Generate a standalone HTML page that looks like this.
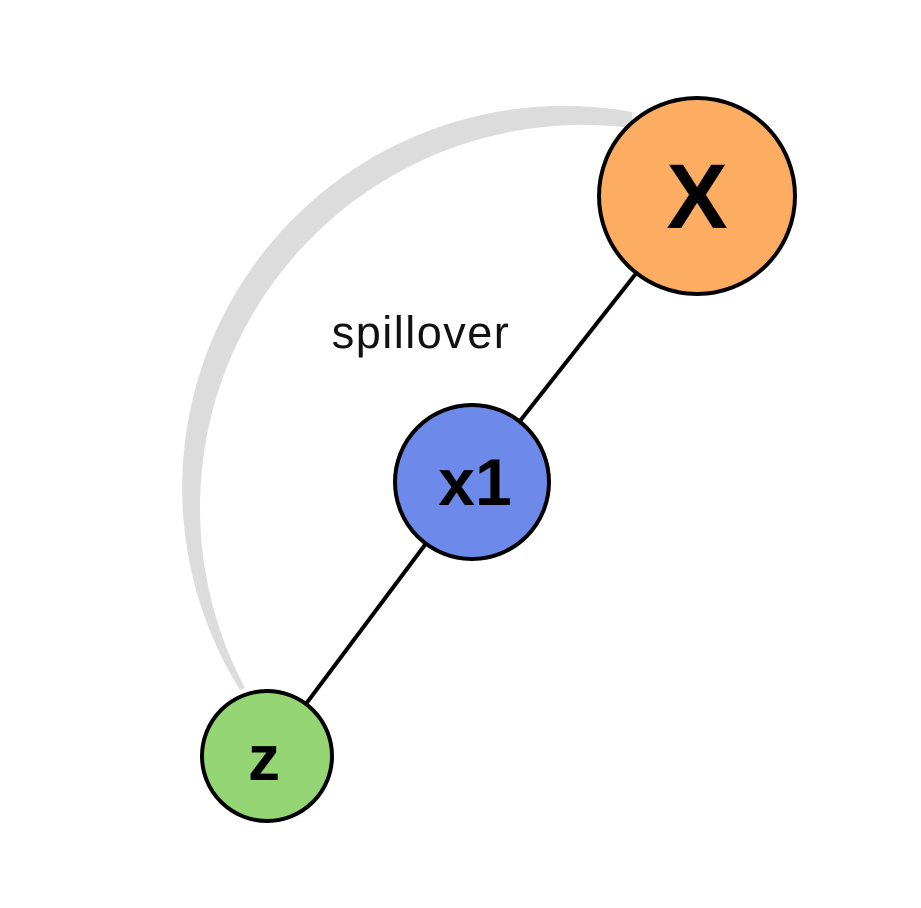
<!DOCTYPE html>
<html><head><style>html,body{margin:0;padding:0;background:#fff;}svg{display:block}</style></head>
<body>
<svg width="921" height="908" viewBox="0 0 921 908" xmlns="http://www.w3.org/2000/svg">
<path d="M240,690 A382,382 0 0 1 632,112 L632,128 A383,383 0 0 0 245,688 Z" fill="#dcdcdc"/>
<line x1="697" y1="196" x2="472" y2="482" stroke="#000" stroke-width="4"/>
<line x1="472" y1="482" x2="267" y2="756" stroke="#000" stroke-width="4"/>
<circle cx="697" cy="196" r="98" fill="#fdad62" stroke="#000" stroke-width="4"/>
<circle cx="472" cy="482" r="77" fill="#6d8aea" stroke="#000" stroke-width="4"/>
<circle cx="267" cy="756" r="65" fill="#95d574" stroke="#000" stroke-width="4"/>
<text x="421" y="348" font-family="Liberation Sans, sans-serif" font-size="45" letter-spacing="1.5" text-anchor="middle" fill="#111">spillover</text>
<text x="697" y="228" font-family="Liberation Sans, sans-serif" font-size="92" font-weight="bold" text-anchor="middle" fill="#000">X</text>
<text x="475" y="505" font-family="Liberation Sans, sans-serif" font-size="66" font-weight="bold" text-anchor="middle" fill="#000">x1</text>
<text x="264" y="780" font-family="Liberation Sans, sans-serif" font-size="64" font-weight="bold" text-anchor="middle" fill="#000">z</text>
</svg>
</body></html>
